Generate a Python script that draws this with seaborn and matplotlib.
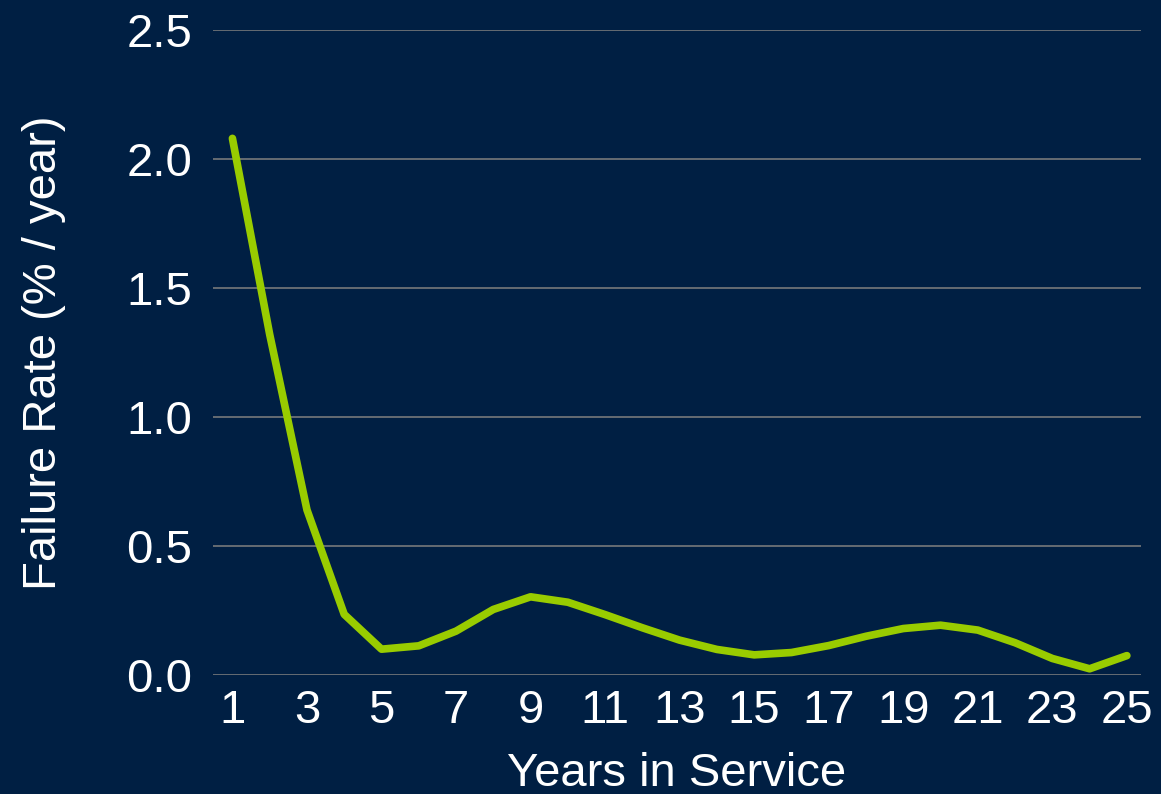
from __future__ import annotations

import matplotlib

matplotlib.use("Agg")
import matplotlib.pyplot as plt
import pandas as pd
import seaborn as sns


BG = "#001F43"
LINE = "#99CC00"
GRID = "#808080"

years = list(range(1, 26))
failure_rate = [
    2.08, 1.32, 0.64, 0.235, 0.10, 0.113, 0.17, 0.254, 0.303, 0.282,
    0.234, 0.183, 0.135, 0.099, 0.078, 0.087, 0.114, 0.15, 0.18, 0.193,
    0.174, 0.125, 0.064, 0.024, 0.075,
]
x_ticks = list(range(1, 26, 2))
y_ticks = [0.0, 0.5, 1.0, 1.5, 2.0, 2.5]


def setup_theme() -> None:
    sns.set_theme(
        context="paper",
        style="darkgrid",
        rc={
            "figure.facecolor": BG,
            "axes.facecolor": BG,
            "axes.edgecolor": BG,
            "grid.color": GRID,
            "grid.linewidth": 1.1,
            "xtick.color": "white",
            "ytick.color": "white",
            "axes.labelcolor": "white",
            "text.color": "white",
        },
    )
    plt.rcParams["font.family"] = ["Liberation Sans", "DejaVu Sans"]


def main() -> None:
    setup_theme()
    df = pd.DataFrame({"Year": years, "Rate": failure_rate})

    fig = plt.figure(figsize=(11.61, 7.94), dpi=100)
    ax = fig.add_axes([0.1835, 0.1499, 0.7993, 0.8123])
    sns.lineplot(data=df, x="Year", y="Rate", color=LINE, linewidth=5.5, ax=ax)
    ax.lines[0].set_solid_capstyle("round")
    ax.lines[0].set_solid_joinstyle("round")

    ax.set_xlim(0.48, 25.38)
    ax.set_ylim(0, 2.5)
    ax.set_xticks(x_ticks)
    ax.set_yticks(y_ticks)
    ax.set_yticklabels([f"{v:.1f}" for v in y_ticks])
    ax.grid(True, axis="y", color=GRID, linewidth=1.1)
    ax.grid(False, axis="x")
    ax.set_axisbelow(True)
    for spine in ax.spines.values():
        spine.set_visible(False)
    ax.tick_params(axis="both", length=0, labelsize=34, colors="white")
    ax.tick_params(axis="y", pad=15)
    ax.tick_params(axis="x", pad=10)

    ax.set_xlabel("Years in Service", fontsize=34, color="white")
    ax.set_ylabel("Failure Rate (% / year)", fontsize=34, color="white")
    ax.xaxis.set_label_coords(0.5, -0.119)
    ax.yaxis.set_label_coords(-0.158, 0.5)

    fig.savefig("out.png", dpi=100, facecolor=BG)
    plt.close(fig)


if __name__ == "__main__":
    main()
